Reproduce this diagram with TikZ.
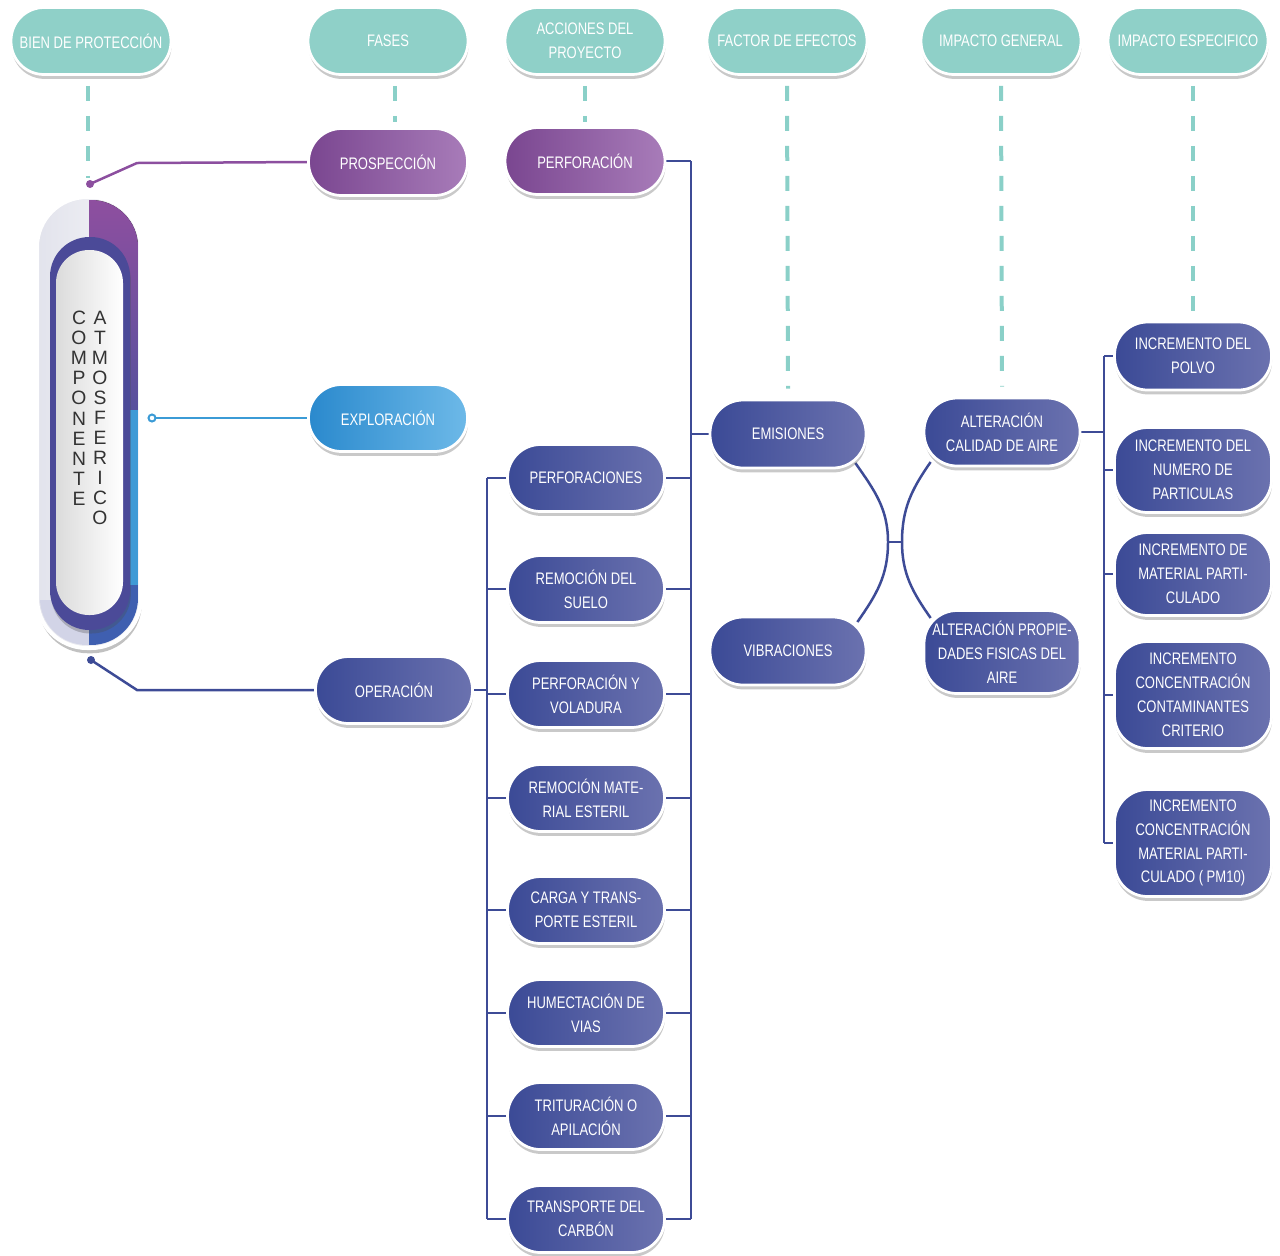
\documentclass[tikz,border=0pt]{standalone}
\usepackage{fontspec}
\newfontfamily\nodefont{Liberation Sans}[FakeStretch=0.78]
\newfontfamily\capfont{Liberation Sans}
\usetikzlibrary{shadows,calc}
\definecolor{tealh}{HTML}{8FD0C8}
\definecolor{nvL}{HTML}{3B4A96}
\definecolor{nvR}{HTML}{6B72AF}
\definecolor{puL}{HTML}{7A4690}
\definecolor{puR}{HTML}{A87CB9}
\definecolor{skL}{HTML}{2A89CD}
\definecolor{skR}{HTML}{6DB9E8}
\definecolor{lnav}{HTML}{3D4B96}
\definecolor{lpur}{HTML}{8C4F9F}
\definecolor{lsky}{HTML}{3B9BD6}
\definecolor{dteal}{HTML}{8AD0C8}
\definecolor{capP}{HTML}{8E4F9F}
\definecolor{capI}{HTML}{574F9D}
\definecolor{capS}{HTML}{3F9AD6}
\definecolor{capB}{HTML}{3F5FB0}
\definecolor{capL}{HTML}{D2D4E7}
\definecolor{capN}{HTML}{4B4A98}
\definecolor{capO}{HTML}{E2E3EC}
\definecolor{capO2}{HTML}{F5F5F8}
\definecolor{captx}{HTML}{333333}
\pgfdeclarelayer{bg}
\pgfsetlayers{bg,main}
\begin{document}
\begin{tikzpicture}[x=0.02cm,y=-0.02cm,
  base/.style={rectangle, rounded corners=0.66cm, draw=white, line width=0.055cm,
    text=white, font=\nodefont\fontsize{9.5}{13.6}\selectfont, align=center,
    inner sep=0pt, minimum width=3.14cm, minimum height=1.34cm,
    drop shadow={shadow xshift=0.3pt, shadow yshift=-2.5pt, opacity=0.3, fill=black!70}},
  hdr/.style={base, fill=tealh, minimum width=3.2cm},
  navy/.style={base, left color=nvL, right color=nvR},
  purp/.style={base, left color=puL, right color=puR},
  sky/.style={base, left color=skL, right color=skR},
  conn/.style={draw=lnav, line width=0.05cm},
  dashl/.style={draw=dteal, line width=0.08cm, dash pattern=on 0.3cm off 0.3cm},
  capcol/.style={font=\capfont\fontsize{11}{11.4}\selectfont, text=captx, align=center, inner sep=0pt, anchor=north}]
\useasboundingbox (0,0) rectangle (1280,1255);

% headers
\node[hdr] (h1) at (91,41) {BIEN DE PROTECCIÓN};
\node[hdr] (h2) at (388,41) {FASES};
\node[hdr] (h3) at (585,41) {ACCIONES DEL\\PROYECTO};
\node[hdr] (h4) at (787,41) {FACTOR DE EFECTOS};
\node[hdr] (h5) at (1001,41) {IMPACTO GENERAL};
\node[hdr] (h6) at (1188,41) {IMPACTO ESPECIFICO};

% left capsule
\path[draw=white, line width=0.08cm, left color=capO, right color=capO2,
  rounded corners=1.0cm, drop shadow={shadow xshift=0.5pt, shadow yshift=-3pt, opacity=0.35, fill=black!70}]
  (37,197) rectangle (141,648);
\begin{scope}
  \clip[rounded corners=0.94cm] (40,200) rectangle (138,645);
  \fill[top color=capP, bottom color=capI] (89,200) rectangle (138,410);
  \fill[capS] (89,410) rectangle (138,585);
  \fill[capB] (89,585) rectangle (138,645);
  \fill[capL] (40,600) rectangle (89,645);
\end{scope}
\path[fill=capN, rounded corners=0.79cm, drop shadow={shadow xshift=0.5pt, shadow yshift=-2pt, opacity=0.3, fill=black!70}]
  (50,237) rectangle (130,630);
\path[left color=black!14, right color=white, rounded corners=0.66cm] (56,250) rectangle (123,615);
\node[capcol] (t1) at (79,311) {C\\O\\M\\P\\O\\N\\E\\N\\T\\E};
\node[capcol] (t2) at (100,311) {A\\T\\M\\O\\S\\F\\E\\R\\I\\C\\O};

% phases
\node[purp, minimum width=3.18cm] (pr) at (388,162) {PROSPECCIÓN};
\node[sky, minimum width=3.18cm] (ex) at (388,418) {EXPLORACIÓN};
\node[navy] (op) at (394,690) {OPERACIÓN};

% actions
\node[purp, minimum width=3.2cm] (a0) at (585,161) {PERFORACIÓN};
\node[navy] (a1) at (586,478) {PERFORACIONES};
\node[navy] (a2) at (586,589) {REMOCIÓN DEL\\SUELO};
\node[navy] (a3) at (586,694) {PERFORACIÓN Y\\VOLADURA};
\node[navy] (a4) at (586,798) {REMOCIÓN MATE-\\RIAL ESTERIL};
\node[navy] (a5) at (586,910) {CARGA Y TRANS-\\PORTE ESTERIL};
\node[navy] (a6) at (586,1013) {HUMECTACIÓN DE\\VIAS};
\node[navy] (a7) at (586,1116) {TRITURACIÓN O\\APILACIÓN};
\node[navy] (a8) at (586,1219) {TRANSPORTE DEL\\CARBÓN};

% factors
\node[navy, minimum width=3.12cm, minimum height=1.36cm] (em) at (788,434) {EMISIONES};
\node[navy, minimum width=3.12cm, minimum height=1.36cm] (vi) at (788,651) {VIBRACIONES};

% general impacts
\node[navy, minimum width=3.12cm, minimum height=1.36cm] (ac) at (1002,432) {ALTERACIÓN\\CALIDAD DE AIRE};
\node[navy, minimum width=3.12cm, minimum height=1.66cm] (ap) at (1002,652) {ALTERACIÓN PROPIE-\\DADES FISICAS DEL\\AIRE};

% specific impacts
\node[navy, minimum height=1.36cm] (s1) at (1193,356) {INCREMENTO DEL\\POLVO};
\node[navy, minimum height=1.7cm] (s2) at (1193,470) {INCREMENTO DEL\\NUMERO DE\\PARTICULAS};
\node[navy, minimum height=1.66cm] (s3) at (1193,574) {INCREMENTO DE\\MATERIAL PARTI-\\CULADO};
\node[navy, minimum height=2.14cm] (s4) at (1193,695) {INCREMENTO\\CONCENTRACIÓN\\CONTAMINANTES\\CRITERIO};
\node[navy, minimum height=2.14cm] (s5) at (1193,843) {INCREMENTO\\CONCENTRACIÓN\\MATERIAL PARTI-\\CULADO ( PM10)};

\begin{pgfonlayer}{bg}
% dashed header lines
\draw[dashl] ([xshift=-0.06cm,yshift=-0.2cm]h1.south) -- ++(0,92);
\draw[dashl] ([xshift=0.14cm,yshift=-0.2cm]h2.south) -- ++(0,36);
\draw[dashl] ([yshift=-0.2cm]h3.south) -- ++(0,36);
\draw[dashl] ([yshift=-0.2cm]h4.south) -- ([yshift=0.2cm]em.north);
\draw[dashl] ([yshift=-0.2cm]h5.south) -- ([yshift=0.2cm]ac.north);
\draw[dashl] ([yshift=-0.2cm]h6.south -| s1.north) -- ([yshift=0.16cm]s1.north);

% capsule connectors
\coordinate (cp1) at (90,184);
\coordinate (cp2) at (152,418);
\coordinate (cp3) at (91,660);
\draw[draw=lpur, line width=0.05cm] (cp1) -- ++(47,-21) -- (pr.west);
\draw[draw=lsky, line width=0.05cm] (cp2) -- (ex.west);
\draw[conn] (cp3) -- ++(46,30) -- (op.west);

% action brackets
\coordinate (lb) at (487,478);
\coordinate (rb) at (691,161);
\draw[conn] (a1.west -| lb) -- (a8.west -| lb);
\draw[conn] (a0.east -| rb) -- (a8.east -| rb);
\draw[conn] (op.east) -- (op.east -| lb);
\draw[conn] (a0.east) -- (a0.east -| rb);
\foreach \n in {a1,a2,a3,a4,a5,a6,a7,a8}{
  \draw[conn] (\n.west -| lb) -- (\n.west);
  \draw[conn] (\n.east) -- (\n.east -| rb);
}
\draw[conn] (em.west -| rb) -- (em.west);

% curves between factors and general impacts
\coordinate (jl) at (888,542);
\coordinate (jr) at (902,542);
\draw[conn] ($(em.east)+(-12,29)$) to[out=-55,in=90] (jl) to[out=-90,in=55] ($(vi.east)+(-10,-29)$);
\draw[conn] ($(ac.west)+(8,30)$) to[out=-125,in=90] (jr) to[out=-90,in=125] ($(ap.west)+(8,-34)$);
\draw[conn] (jl) -- (jr);

% specific bracket
\coordinate (sb) at (1104,356);
\draw[conn] (s1.west -| sb) -- (s5.west -| sb);
\draw[conn] (ac.east) -- (ac.east -| sb);
\foreach \n in {s1,s2,s3,s4,s5}{
  \draw[conn] (\n.west -| sb) -- (\n.west);
}
\end{pgfonlayer}

% connector end dots (above lines)
\fill[lpur] (cp1) circle (0.08cm);
\draw[lsky, line width=0.04cm, fill=white] (cp2) circle (0.07cm);
\fill[lnav] (cp3) circle (0.08cm);
\end{tikzpicture}
\end{document}
